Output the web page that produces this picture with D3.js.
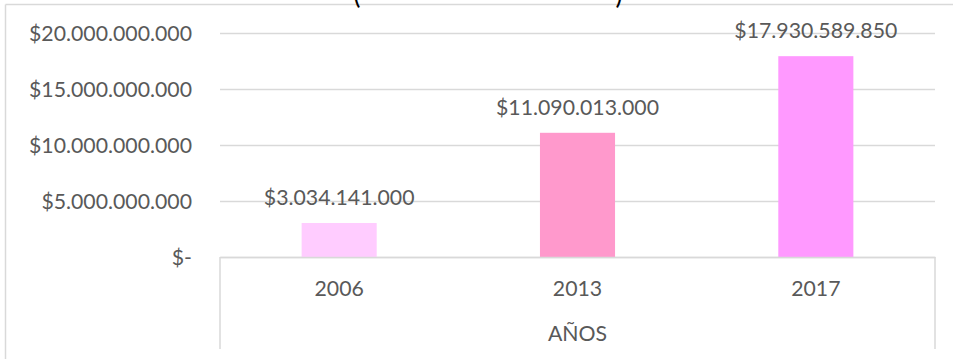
<!DOCTYPE html>
<html>
<head>
<meta charset="utf-8">
<script src="https://cdn.jsdelivr.net/npm/d3@7"></script>
<style>
  html, body { margin: 0; padding: 0; background: #fff; }
  svg { display: block; }
  text { font-family: Lato, "Open Sans", sans-serif; fill: #595959; }
</style>
</head>
<body>
<svg id="chart" width="953" height="359"></svg>
<script>
// Investment per year (pesos)
const years = ["2006", "2013", "2017"];
const amounts = [3034141000, 11090013000, 17930589850];
const barColors = ["#FFCCFF", "#FF99CC", "#FF99FF"];
const yTicks = [0, 5000000000, 10000000000, 15000000000, 20000000000];
const axisTitle = "AÑOS";

const W = 953, H = 359;
const plot = { left: 220, right: 935, top: 33, bottom: 257 };
const gridColor = "#d9d9d9";

const locale = d3.formatLocale({ decimal: ",", thousands: ".", grouping: [3], currency: ["$", ""] });
const money = locale.format("$,.0f");
const fmt = v => v === 0 ? "$-" : money(v);

const svg = d3.select("#chart");

// fit the label font so the widest tick label spans the intended width
const probe = svg.append("text").attr("font-size", 20).text(fmt(20000000000));
const fontSize = 20 * 163 / probe.node().getComputedTextLength();
probe.remove();

const x = d3.scaleBand().domain(years).range([plot.left, plot.right])
  .paddingInner(0.685).paddingOuter(0.3425);
const y = d3.scaleLinear().domain([0, 20000000000]).range([plot.bottom, plot.top]);

// chart frame (top and left edges)
svg.append("line").attr("x1", 5.5).attr("x2", W).attr("y1", 4.5).attr("y2", 4.5)
  .attr("stroke", gridColor).attr("stroke-width", 1.5);
svg.append("line").attr("x1", 5.5).attr("x2", 5.5).attr("y1", 4.5).attr("y2", H)
  .attr("stroke", gridColor).attr("stroke-width", 1.5);

// title parentheses peeking in from above
svg.append("text").attr("x", 357).attr("y", 4).attr("font-size", 26).style("fill", "#000")
  .attr("text-anchor", "middle").text("(");
svg.append("text").attr("x", 619).attr("y", 4).attr("font-size", 26).style("fill", "#000")
  .attr("text-anchor", "middle").text(")");

// horizontal gridlines
const yAxis = d3.axisLeft(y).tickValues(yTicks).tickFormat(fmt)
  .tickSize(-(plot.right - plot.left)).tickPadding(28);
const gy = svg.append("g").attr("transform", `translate(${plot.left},0)`).call(yAxis);
gy.select(".domain").remove();
gy.selectAll(".tick line").attr("stroke", gridColor).attr("stroke-width", 1.5);
gy.selectAll(".tick text").attr("font-size", fontSize).attr("dy", "0.36em")
  .style("font-family", "Lato, 'Open Sans', sans-serif").style("fill", "#595959");

// category box below the axis
[plot.left, plot.right].forEach(px => {
  svg.append("line").attr("x1", px).attr("x2", px).attr("y1", plot.bottom).attr("y2", 349)
    .attr("stroke", gridColor).attr("stroke-width", 1.5);
});

// bars
svg.append("g").selectAll("rect").data(years).join("rect")
  .attr("x", d => x(d))
  .attr("width", x.bandwidth())
  .attr("y", (d, i) => y(amounts[i]))
  .attr("height", (d, i) => y(0) - y(amounts[i]))
  .attr("fill", (d, i) => barColors[i]);

// value labels
svg.append("g").selectAll("text").data(years).join("text")
  .attr("x", d => x(d) + x.bandwidth() / 2)
  .attr("y", (d, i) => y(amounts[i]) - 18)
  .attr("text-anchor", "middle")
  .attr("font-size", fontSize)
  .text((d, i) => fmt(amounts[i]));

// category labels
const xAxis = d3.axisBottom(x).tickSize(0).tickPadding(0);
const gx = svg.append("g").attr("transform", `translate(0,${plot.bottom})`).call(xAxis);
gx.select(".domain").attr("stroke", gridColor).attr("stroke-width", 1.5);
gx.selectAll(".tick text").attr("font-size", fontSize).attr("y", 31).attr("dy", "0.36em")
  .style("font-family", "Lato, 'Open Sans', sans-serif").style("fill", "#595959");

svg.append("text").attr("x", (plot.left + plot.right) / 2).attr("y", 333).attr("dy", "0.36em")
  .attr("text-anchor", "middle").attr("font-size", fontSize).text(axisTitle);
</script>
</body>
</html>
